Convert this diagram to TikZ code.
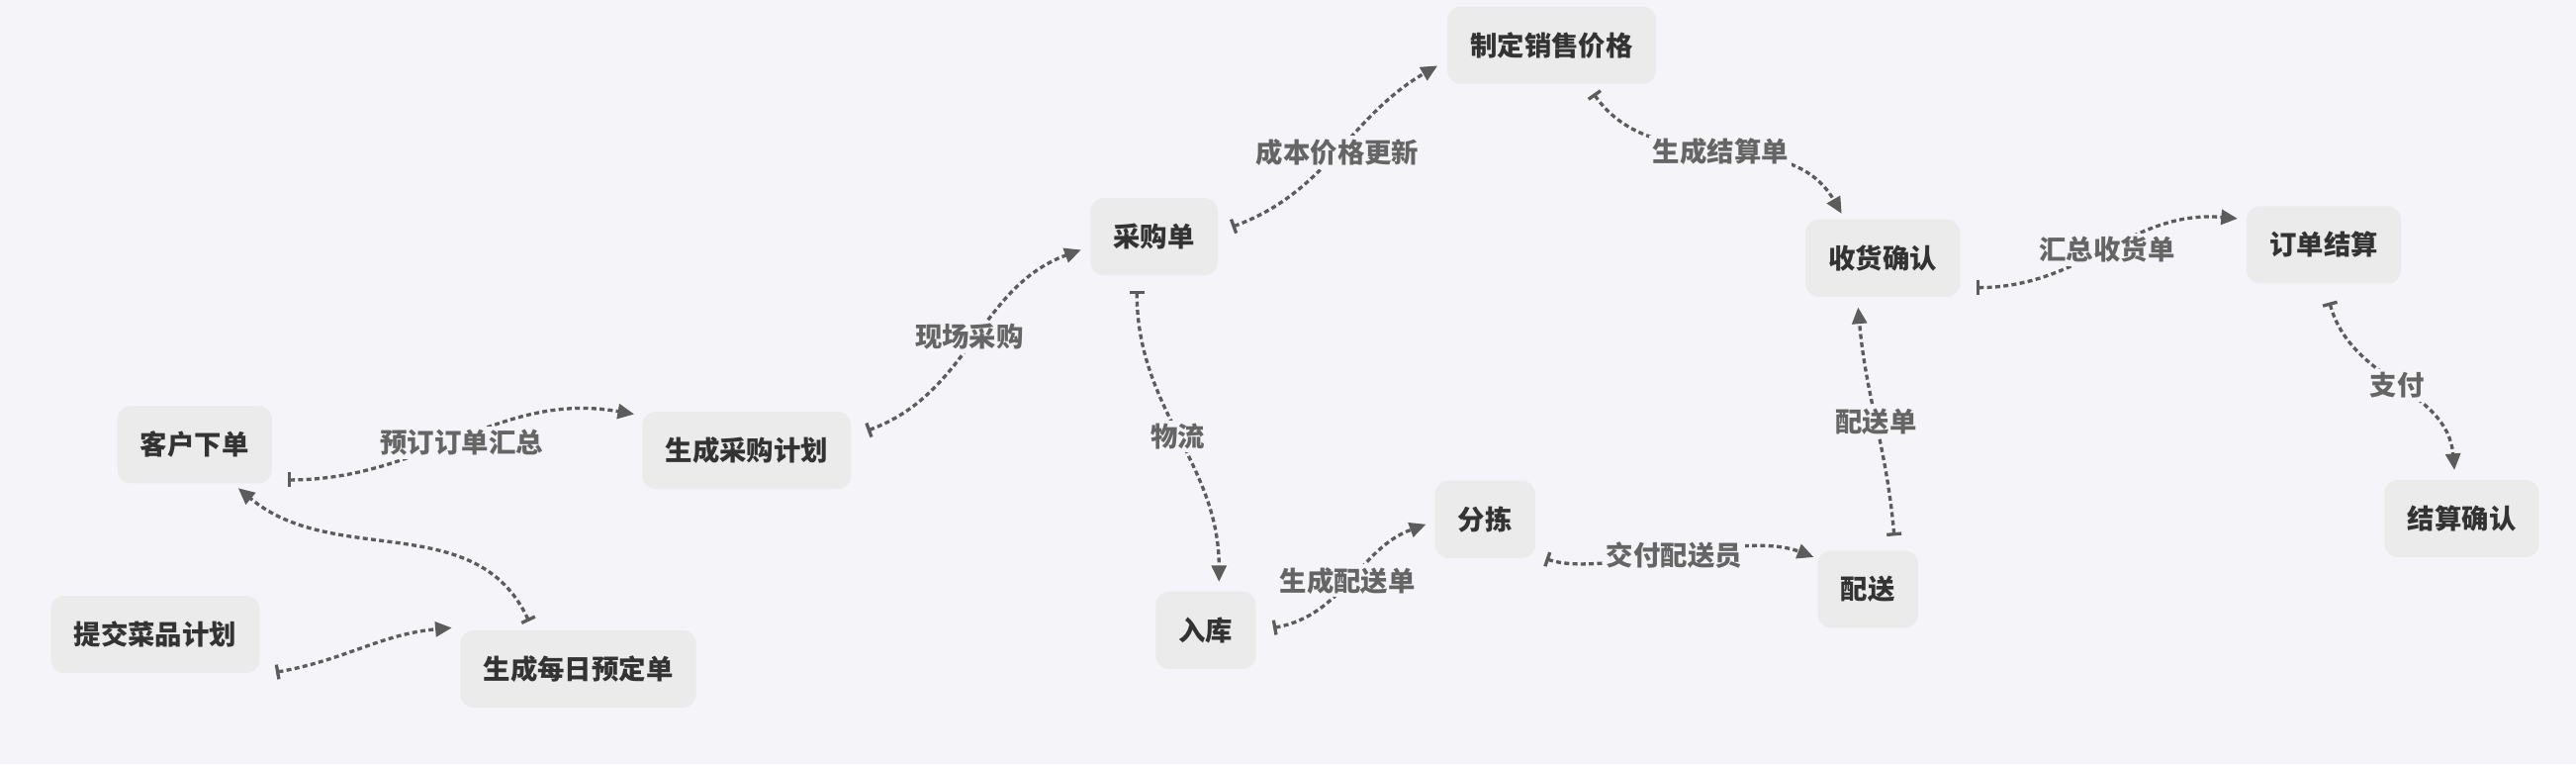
\documentclass[tikz,border=0pt]{standalone}
\usepackage{fontspec}
\setmainfont{Noto Sans CJK SC}
\usetikzlibrary{arrows.meta,calc}
\definecolor{bgc}{HTML}{F5F5F9}
\definecolor{boxc}{HTML}{EBEBEB}
\definecolor{txtc}{HTML}{333333}
\definecolor{linec}{HTML}{5C5C5C}
\definecolor{lblc}{HTML}{656565}
\begin{document}
\begin{tikzpicture}[x=1pt,y=1pt,
  box/.style={fill=boxc, rounded corners=8pt, minimum height=47pt, inner xsep=14pt, inner ysep=0pt,
    text=txtc, font=\fontsize{16.5}{18}\selectfont\bfseries},
  flow/.style={draw=linec, line width=2pt, dash pattern=on 3pt off 2pt,
    {Bar[width=9pt,line width=2pt]}-{Triangle[length=10pt,width=9pt]}},
  lbl/.style={fill=bgc, text=lblc, inner sep=2pt, font=\fontsize{16.5}{18}\selectfont\bfseries}
]
\fill[bgc] (0,0) rectangle (1568,-465);
\useasboundingbox (0,0) rectangle (1568,-465);

\node[box] (kh)   at (118.5,-270.5) {客户下单};
\node[box] (cgjh) at (454.5,-274)   {生成采购计划};
\node[box] (tj)   at (94.5,-386)    {提交菜品计划};
\node[box] (mr)   at (352,-407)     {生成每日预定单};
\node[box] (cgd)  at (702.5,-144)   {采购单};
\node[box] (xs)   at (944.5,-27.5)  {制定销售价格};
\node[box] (sh)   at (1146,-157)    {收货确认};
\node[box] (dd)   at (1414.5,-149)  {订单结算};
\node[box] (js)   at (1498.5,-315.5){结算确认};
\node[box] (rk)   at (734,-383.5)   {入库};
\node[box] (fj)   at (904,-316)     {分拣};
\node[box] (ps)   at (1137,-358.5)  {配送};

\draw[flow] ($(kh)+(56.5,-21.5)$) to[out=0,in=170] node[lbl,yshift=-3pt]{预订订单汇总} ($(cgjh)+(-68.5,22)$);
\draw[flow] ($(cgjh)+(73.5,12)$) to[out=20,in=200] node[lbl,xshift=-3pt,yshift=2pt]{现场采购} ($(cgd)+(-44.5,-8)$);
\draw[flow] ($(cgd)+(47.5,6)$) to[out=20,in=210] node[lbl]{成本价格更新} ($(xs)+(-69.5,-12.5)$);
\draw[flow] ($(xs)+(25.5,-29.5)$) to[out=-55,in=120] node[lbl]{生成结算单} ($(sh)+(-25,27)$);
\draw[flow] ($(sh)+(57,-18)$) to[out=0,in=175] node[lbl]{汇总收货单} ($(dd)+(-52.5,16)$);
\draw[flow] ($(dd)+(3.5,-35)$) to[out=-75,in=95] node[lbl]{支付} ($(js)+(-4.5,29.5)$);
\draw[flow] ($(cgd)+(-10.5,-33)$) to[out=-90,in=90] node[lbl]{物流} ($(rk)+(8,29.5)$);
\draw[flow] ($(rk)+(41,1.5)$) to[out=10,in=200] node[lbl,xshift=-2pt]{生成配送单} ($(fj)+(-36,-3)$);
\draw[flow] ($(fj)+(37,-24)$) .. controls +(35,-12) and +(-44,17) .. ($(ps)+(-33,19.5)$) node[lbl,pos=0.5]{交付配送员};
\draw[flow] ($(ps)+(16,32.5)$) to[out=95,in=-85] node[lbl]{配送单} ($(sh)+(-15,-30)$);
\draw[flow] ($(mr)+(-30,29)$) to[out=115,in=-40] ($(kh)+(26.5,-26.5)$);
\draw[flow] ($(tj)+(73.5,-23)$) to[out=10,in=185] ($(mr)+(-77,25)$);
\end{tikzpicture}
\end{document}
